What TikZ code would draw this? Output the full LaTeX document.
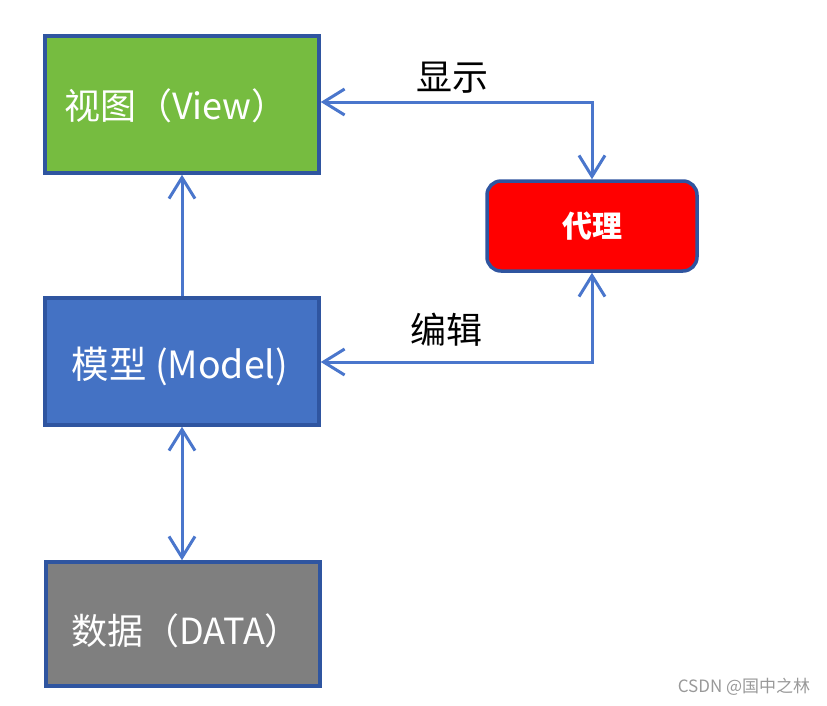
\documentclass[tikz,border=0pt]{standalone}
\usepackage{fontspec}
\setmainfont{Noto Sans CJK SC}
\usetikzlibrary{arrows.meta}
\definecolor{vgreen}{HTML}{76BC40}
\definecolor{mblue}{HTML}{4472C4}
\definecolor{dgray}{HTML}{7F7F7F}
\definecolor{bord}{HTML}{2F55A0}
\definecolor{arr}{HTML}{4A76CC}
\begin{document}
\begin{tikzpicture}[x=1pt,y=-1pt,
  box/.style={draw=bord, line width=3.5pt, minimum width=274pt, inner sep=0pt},
  boxtext/.style={text=white, font=\fontsize{36}{40}\selectfont, inner sep=0pt},
  conn/.style={draw=arr, line width=3pt, {Straight Barb[length=21pt,width=26pt,line width=3pt]}-{Straight Barb[length=21pt,width=26pt,line width=3pt]}},
  conn1/.style={draw=arr, line width=3pt, -{Straight Barb[length=21pt,width=26pt,line width=3pt]}},
  lab/.style={font=\fontsize{36}{40}\selectfont, text=black, inner sep=0pt}
]
\useasboundingbox (0,0) rectangle (827,705);
\node[box, fill=vgreen, minimum height=137pt] (view) at (182,104.5) {};
\node[box, fill=mblue, minimum height=127pt] (model) at (182,361.5) {};
\node[box, fill=dgray, minimum height=124pt] (data) at (183,624) {};
\node[boxtext] (viewt) at (176,106) {视图（View）};
\node[boxtext, font=\fontsize{37.5}{40}\selectfont] (modelt) at (180,366) {模型 (Model)};
\node[boxtext] (datat) at (186,631) {数据（DATA）};
\node[draw=bord, line width=3.5pt, fill=red, rounded corners=14pt, minimum width=210pt, minimum height=90pt, text=white, font=\bfseries\fontsize{30}{34}\selectfont] (proxy) at (592,226) {代理};
\coordinate (c1) at (592,102);
\coordinate (c2) at (592,362);
\draw[conn] (view.east |- c1) -- (c1) -- (proxy.north);
\draw[conn] (model.east |- c2) -- (c2) -- (proxy.south);
\draw[conn1] (model.north) -- (view.south);
\draw[conn] (data.north -| model.south) -- (model.south);
\node[lab] (show) at (452,78) {显示};
\node[lab] (edit) at (446,330) {编辑};
\node[text=gray!80, font=\fontsize{17}{20}\selectfont, inner sep=0pt] (wm) at (744,687) {CSDN @国中之林};
\end{tikzpicture}
\end{document}
